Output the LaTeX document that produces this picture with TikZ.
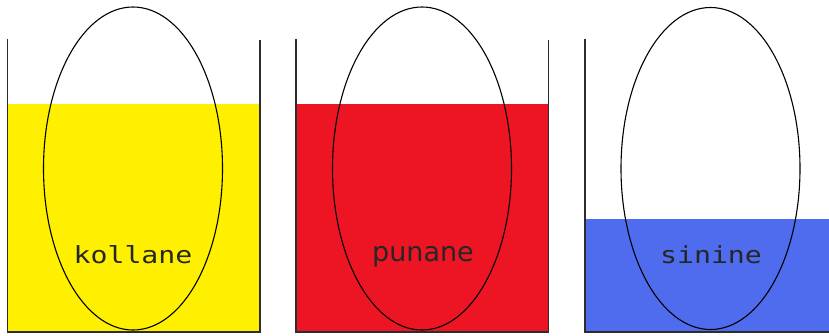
\documentclass[tikz,border=0pt]{standalone}
\usepackage{fontspec}
\newfontfamily\monofont[FakeStretch=1.2]{DejaVu Sans Mono}
\newfontfamily\propfont{DejaVu Sans}
\definecolor{yel}{RGB}{255,240,0}
\definecolor{redl}{RGB}{237,21,36}
\definecolor{bluel}{RGB}{79,108,239}
\definecolor{wallc}{RGB}{45,45,45}
\begin{document}
\begin{tikzpicture}[x=1pt,y=-1pt,
  wall/.style={draw=wallc,line width=1.5pt},
  egg/.style={draw=black,line width=1.1pt},
  mlabel/.style={font=\monofont\fontsize{23.5}{24}\selectfont,text=black!85,anchor=base,inner sep=0pt},
  plabel/.style={font=\propfont\fontsize{27}{28}\selectfont,text=black!85,anchor=base,inner sep=0pt}]
\useasboundingbox (0,0) rectangle (829,335);
% liquids
\fill[yel] (7.5,104) rectangle (260,332);
\fill[redl] (296,104) rectangle (548.5,332);
\fill[bluel] (585,219) rectangle (829,332);
% beakers
\draw[wall] (7.5,39) -- (7.5,332) -- (260,332) -- (260,40);
\draw[wall] (296,39) -- (296,332) -- (548.5,332) -- (548.5,40);
\draw[wall] (585,39) -- (585,332) -- (829,332);
% eggs
\draw[egg] (133,168.5) ellipse [x radius=89.5, y radius=161.5];
\draw[egg] (422,168.5) ellipse [x radius=89.5, y radius=161.5];
\draw[egg] (710.5,168.5) ellipse [x radius=89.5, y radius=161];
% labels
\node[mlabel] (k) at (133,263) {kollane};
\node[plabel] (p) at (423,261.5) {punane};
\node[mlabel] (s) at (711,263) {sinine};
\end{tikzpicture}
\end{document}
